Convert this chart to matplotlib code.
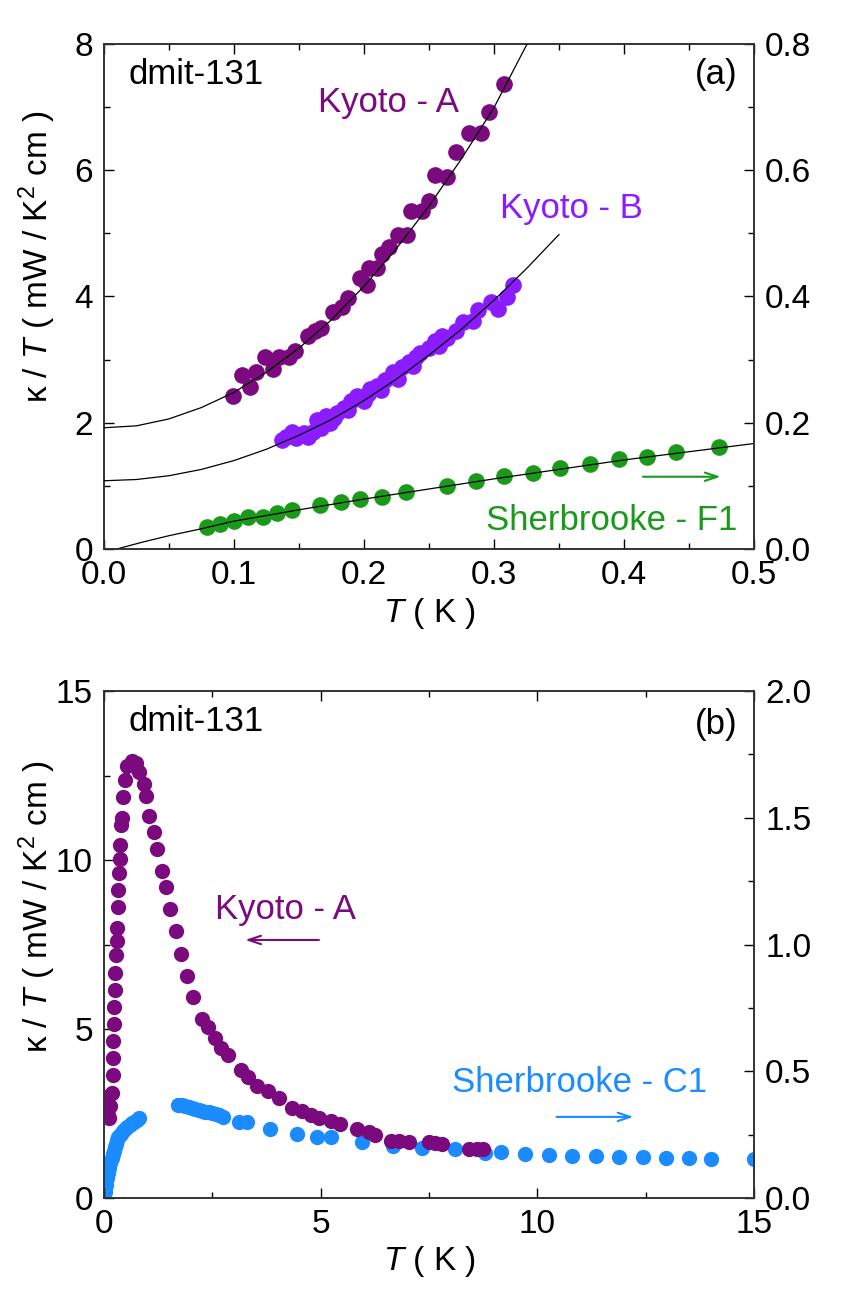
import numpy as np
import matplotlib
matplotlib.use('Agg')
import matplotlib.pyplot as plt
from matplotlib.ticker import MultipleLocator

plt.rcParams['font.family'] = ['Liberation Sans', 'DejaVu Sans']
plt.rcParams['mathtext.fontset'] = 'custom'
plt.rcParams['mathtext.rm'] = 'Liberation Sans'
plt.rcParams['mathtext.it'] = 'Liberation Sans:italic'

# colours
c_kA = '#7a0a7e'
c_kB = '#8a1cff'
c_f1 = '#1a991a'
c_c1 = '#1a8cff'

# ---- panel (a) data ----
kA_T = [0.099, 0.106, 0.112, 0.117, 0.124, 0.130, 0.135, 0.142, 0.147, 0.157, 0.162,
        0.167, 0.176, 0.183, 0.188, 0.197, 0.202, 0.204, 0.210, 0.214, 0.219, 0.226,
        0.233, 0.236, 0.245, 0.250, 0.255, 0.264, 0.271, 0.281, 0.290, 0.296, 0.308]
kA_k = [2.43, 2.75, 2.56, 2.80, 3.04, 2.85, 3.04, 3.04, 3.13, 3.37, 3.45,
        3.50, 3.75, 3.83, 3.97, 4.29, 4.18, 4.45, 4.45, 4.67, 4.78, 4.97,
        4.97, 5.35, 5.35, 5.51, 5.92, 5.89, 6.29, 6.59, 6.59, 6.92, 7.36]

kB_T = [0.137, 0.140, 0.145, 0.148, 0.150, 0.154, 0.157, 0.161, 0.164, 0.167, 0.171,
        0.174, 0.177, 0.179, 0.185, 0.188, 0.190, 0.195, 0.200, 0.203, 0.205, 0.210,
        0.213, 0.216, 0.222, 0.226, 0.229, 0.235, 0.238, 0.240, 0.243, 0.250, 0.255,
        0.258, 0.260, 0.264, 0.271, 0.276, 0.284, 0.288, 0.298, 0.303, 0.310, 0.315]
kB_k = [1.72, 1.77, 1.85, 1.75, 1.80, 1.83, 1.77, 1.85, 2.04, 1.91, 2.10,
        1.99, 2.08, 2.15, 2.23, 2.20, 2.34, 2.42, 2.34, 2.45, 2.53, 2.58,
        2.52, 2.67, 2.80, 2.69, 2.88, 2.96, 2.90, 3.04, 3.10, 3.18, 3.29,
        3.22, 3.37, 3.34, 3.45, 3.59, 3.61, 3.78, 3.91, 3.80, 3.99, 4.18]

f1_T = [0.079, 0.089, 0.100, 0.111, 0.122, 0.133, 0.145, 0.166, 0.182, 0.197, 0.214,
        0.232, 0.264, 0.286, 0.308, 0.330, 0.351, 0.374, 0.396, 0.418, 0.440, 0.473]
f1_k = [0.034, 0.039, 0.044, 0.050, 0.051, 0.057, 0.061, 0.069, 0.074, 0.079, 0.083,
        0.090, 0.099, 0.107, 0.115, 0.120, 0.128, 0.135, 0.142, 0.146, 0.153, 0.162]

# fit curves
fitA_T = [0.0, 0.025, 0.05, 0.075, 0.1, 0.125, 0.15, 0.175, 0.2, 0.225, 0.25, 0.275, 0.3, 0.325, 0.335]
fitA_k = [1.92, 1.95, 2.06, 2.24, 2.48, 2.80, 3.18, 3.63, 4.16, 4.76, 5.43, 6.18, 6.99, 7.98, 8.4]
fitB_T = [0.0, 0.025, 0.05, 0.075, 0.1, 0.125, 0.15, 0.175, 0.2, 0.225, 0.25, 0.275, 0.3, 0.325, 0.35]
fitB_k = [1.08, 1.10, 1.16, 1.26, 1.40, 1.58, 1.80, 2.05, 2.35, 2.69, 3.07, 3.48, 3.94, 4.44, 4.98]
fitF_T = [0.01, 0.03, 0.05, 0.075, 0.1, 0.15, 0.2, 0.25, 0.3, 0.35, 0.4, 0.45, 0.5]
fitF_k = [0.0, 0.011, 0.021, 0.032, 0.044, 0.062, 0.079, 0.095, 0.111, 0.126, 0.141, 0.154, 0.167]

# ---- panel (b) data ----
bA_T = [0.05, 0.08, 0.10, 0.12, 0.15, 0.18, 0.20, 0.21, 0.22, 0.23, 0.24, 0.25, 0.26,
        0.28, 0.29, 0.30, 0.32, 0.33, 0.34, 0.36, 0.38, 0.40, 0.41, 0.43, 0.48, 0.54,
        0.64, 0.74, 0.82, 0.92, 0.98, 1.05, 1.16, 1.23, 1.33, 1.43, 1.52, 1.67, 1.77,
        1.91, 2.06, 2.27, 2.39, 2.57, 2.70, 2.86, 3.17, 3.32, 3.53, 3.79, 4.04, 4.35,
        4.56, 4.77, 4.97, 5.23, 5.44, 5.85, 6.11, 6.26, 6.62, 6.80, 7.04, 7.50, 7.65,
        7.81, 8.43, 8.60, 8.74]
bA_k = [3.0, 2.6, 2.45, 2.36, 2.71, 3.12, 3.63, 4.13, 4.64, 5.15, 5.66, 6.16, 6.67,
        7.18, 7.59, 7.99, 8.60, 9.11, 9.62, 10.02, 10.43, 11.04, 11.24, 11.85, 12.36, 12.77,
        12.92, 12.87, 12.61, 12.26, 11.90, 11.29, 10.84, 10.33, 9.67, 9.21, 8.55, 7.89, 7.23,
        6.57, 5.96, 5.30, 5.05, 4.74, 4.45, 4.23, 3.78, 3.57, 3.32, 3.17, 2.97, 2.66,
        2.56, 2.46, 2.36, 2.27, 2.20, 2.05, 1.95, 1.85, 1.70, 1.68, 1.65, 1.65, 1.62,
        1.59, 1.44, 1.44, 1.44]

c1_T = [0.02, 0.05, 0.07, 0.10, 0.12, 0.15, 0.18, 0.20, 0.23, 0.26, 0.28, 0.31, 0.33,
        0.37, 0.40, 0.44, 0.48, 0.53, 0.59, 0.64, 0.69, 0.76, 0.82,
        1.72, 1.80, 1.88, 1.96, 2.03, 2.11, 2.19, 2.27, 2.34, 2.42, 2.50, 2.58, 2.65,
        2.75, 3.12, 3.29, 3.84, 4.46, 4.92, 5.23, 5.95, 6.67, 7.35, 8.10, 8.79, 9.17,
        9.72, 10.27, 10.80, 11.35, 11.89, 12.43, 12.97, 13.50, 14.02, 15.0]
c1_k = [0.023, 0.05, 0.077, 0.098, 0.118, 0.138, 0.158, 0.172, 0.186, 0.200, 0.213, 0.227, 0.240,
        0.247, 0.253, 0.264, 0.274, 0.281, 0.287, 0.294, 0.300, 0.307, 0.314,
        0.368, 0.366, 0.362, 0.359, 0.355, 0.352, 0.348, 0.345, 0.341, 0.338, 0.334, 0.331, 0.328,
        0.318, 0.300, 0.300, 0.274, 0.253, 0.240, 0.240, 0.219, 0.206, 0.199, 0.192, 0.179, 0.181,
        0.172, 0.169, 0.165, 0.165, 0.162, 0.161, 0.158, 0.156, 0.154, 0.152]

fig = plt.figure(figsize=(8.48, 12.95), dpi=100)

tick_fs = 24
txt_fs = 25
ylab = r'κ / $T$ ( mW / K$^2$ cm )'
xlab = r'$T$ ( K )'


def style(ax, right=False):
    ax.tick_params(which='both', direction='in', labelsize=tick_fs, pad=8,
                   top=not right, right=False, left=not right)
    ax.tick_params(which='major', length=7, width=1)
    ax.tick_params(which='minor', length=4, width=1)
    for s in ax.spines.values():
        s.set_linewidth(1.2)
        s.set_color('#333333')


# ================= panel (a) =================
ax = fig.add_axes([0.1226, 0.5761, 0.7665, 0.39])
ax2 = ax.twinx()
ax.set_zorder(ax2.get_zorder() + 1)
ax.patch.set_visible(False)

ax.plot(fitA_T, fitA_k, color='black', lw=0.9, zorder=3)
ax.plot(fitB_T, fitB_k, color='black', lw=0.9, zorder=3)
ax.plot(kA_T, kA_k, 'o', color=c_kA, ms=12, mec='none', zorder=2)
ax.plot(kB_T, kB_k, 'o', color=c_kB, ms=12, mec='none', zorder=2)
ax2.plot(f1_T, f1_k, 'o', color=c_f1, ms=12, mec='none', zorder=2)
ax2.plot(fitF_T, fitF_k, color='black', lw=0.9, zorder=3)

ax.set_xlim(0, 0.5)
ax.set_ylim(0, 8)
ax2.set_ylim(0, 0.8)
ax.xaxis.set_major_locator(MultipleLocator(0.1))
ax.xaxis.set_minor_locator(MultipleLocator(0.05))
ax.yaxis.set_major_locator(MultipleLocator(2))
ax.yaxis.set_minor_locator(MultipleLocator(1))
ax2.yaxis.set_major_locator(MultipleLocator(0.2))
ax2.yaxis.set_minor_locator(MultipleLocator(0.1))
style(ax)
style(ax2, right=True)
ax2.tick_params(which='both', right=True, direction='in', labelsize=tick_fs, pad=8)

ax.text(0.037, 0.939, 'dmit-131', transform=ax.transAxes, fontsize=txt_fs, va='center', ha='left')
ax.text(0.975, 0.939, '(a)', transform=ax.transAxes, fontsize=txt_fs, va='center', ha='right')
ax.text(0.329, 0.883, 'Kyoto - A', transform=ax.transAxes, fontsize=txt_fs, color=c_kA, va='center')
ax.text(0.609, 0.675, 'Kyoto - B', transform=ax.transAxes, fontsize=txt_fs, color=c_kB, va='center')
ax.text(0.975, 0.057, 'Sherbrooke - F1', transform=ax.transAxes, fontsize=txt_fs, color=c_f1,
        va='center', ha='right')
ax.annotate('', xy=(0.953, 0.143), xytext=(0.825, 0.143), xycoords='axes fraction',
            arrowprops=dict(arrowstyle='->,head_length=0.9,head_width=0.3', color=c_f1, lw=1.5))
ax.text(-0.102, 0.578, ylab, transform=ax.transAxes, fontsize=tick_fs, rotation=90,
        va='center', ha='center')
ax.text(0.5, -0.127, xlab, transform=ax.transAxes, fontsize=tick_fs, va='center', ha='center')

# ================= panel (b) =================
bx = fig.add_axes([0.1226, 0.0749, 0.7665, 0.3915])
bx2 = bx.twinx()
bx.set_zorder(bx2.get_zorder() + 1)
bx.patch.set_visible(False)

bx.plot(bA_T, bA_k, 'o', color=c_kA, ms=11, mec='none')
bx2.plot(c1_T, c1_k, 'o', color=c_c1, ms=11, mec='none')

bx.set_xlim(0, 15)
bx.set_ylim(0, 15)
bx2.set_ylim(0, 2.0)
bx.xaxis.set_major_locator(MultipleLocator(5))
bx.xaxis.set_minor_locator(MultipleLocator(2.5))
bx.yaxis.set_major_locator(MultipleLocator(5))
bx.yaxis.set_minor_locator(MultipleLocator(2.5))
bx2.yaxis.set_major_locator(MultipleLocator(0.5))
bx2.yaxis.set_minor_locator(MultipleLocator(0.25))
style(bx)
style(bx2, right=True)
bx2.tick_params(which='both', right=True, direction='in', labelsize=tick_fs, pad=8)

bx.text(0.037, 0.939, 'dmit-131', transform=bx.transAxes, fontsize=txt_fs, va='center', ha='left')
bx.text(0.975, 0.933, '(b)', transform=bx.transAxes, fontsize=txt_fs, va='center', ha='right')
bx.text(0.171, 0.570, 'Kyoto - A', transform=bx.transAxes, fontsize=txt_fs, color=c_kA, va='center')
bx.annotate('', xy=(0.213, 0.509), xytext=(0.335, 0.509), xycoords='axes fraction',
            arrowprops=dict(arrowstyle='->,head_length=0.9,head_width=0.3', color=c_kA, lw=1.5))
bx.text(0.535, 0.227, 'Sherbrooke - C1', transform=bx.transAxes, fontsize=txt_fs, color=c_c1, va='center')
bx.annotate('', xy=(0.819, 0.160), xytext=(0.692, 0.160), xycoords='axes fraction',
            arrowprops=dict(arrowstyle='->,head_length=0.9,head_width=0.3', color=c_c1, lw=1.5))
bx.text(-0.102, 0.574, ylab, transform=bx.transAxes, fontsize=tick_fs, rotation=90,
        va='center', ha='center')
bx.text(0.5, -0.126, xlab, transform=bx.transAxes, fontsize=tick_fs, va='center', ha='center')

fig.savefig('out.png', dpi=100)
